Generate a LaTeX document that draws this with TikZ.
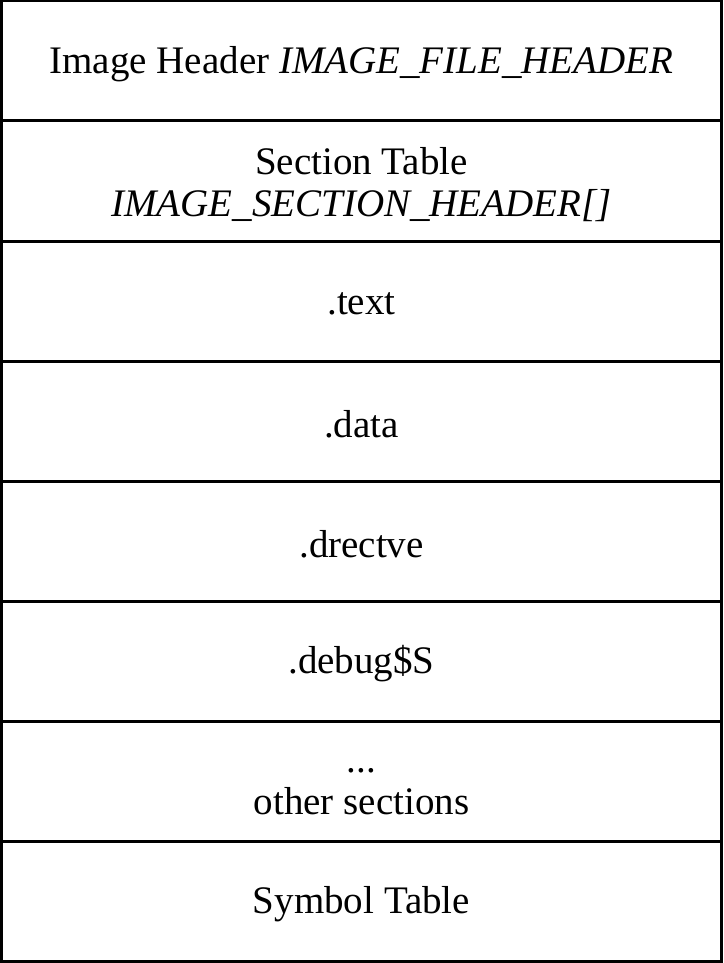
\documentclass[tikz,border=0pt]{standalone}
\usepackage{fontspec}
\setmainfont{Liberation Serif}
\begin{document}
\begin{tikzpicture}[x=1pt,y=-1pt,
  rowbox/.style={draw=black, line width=3pt, minimum width=720pt, minimum height=120pt,
    inner sep=0pt, align=center, anchor=center},
  rowtext/.style={inner sep=0pt, align=center, anchor=center, font=\fontsize{39}{42}\selectfont}]
\useasboundingbox (0,0) rectangle (723,963);
\fill[white] (0,0) rectangle (723,963);
\foreach \i/\y in {1/61,2/181,3/301,4/421,5/541,6/661,7/781,8/901}
  \node[rowbox] (b\i) at (361.5,\y) {};
\node[rowtext] (r1) at ([yshift=-3pt]b1.center) {Image Header \textit{IMAGE\_FILE\_HEADER}};
\node[rowtext] (r2) at ([yshift=-4pt]b2.center) {Section Table\\\textit{IMAGE\_SECTION\_HEADER[]}};
\node[rowtext] (r3) at ([yshift=-3pt]b3.center) {.text};
\node[rowtext] (r4) at ([yshift=-3pt]b4.center) {.data};
\node[rowtext] (r5) at ([yshift=-3pt]b5.center) {.drectve};
\node[rowtext] (r6) at ([yshift=-3pt]b6.center) {.debug\$S};
\node[rowtext] (r7) at ([yshift=-11pt]b7.center) {...\\other sections};
\node[rowtext] (r8) at ([yshift=-3pt]b8.center) {Symbol Table};
\end{tikzpicture}
\end{document}
